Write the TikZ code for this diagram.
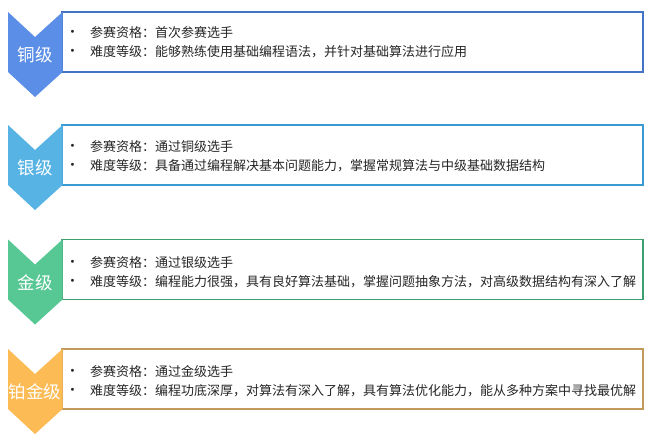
\documentclass[tikz,border=0pt]{standalone}
\usepackage{fontspec}
\setmainfont{Noto Sans CJK SC}
\newfontfamily\bulletfont{DejaVu Sans}
\definecolor{cA}{HTML}{5B8EE6}\definecolor{bA}{HTML}{4472C4}
\definecolor{cB}{HTML}{56B3E4}\definecolor{bB}{HTML}{3A9AD2}
\definecolor{cC}{HTML}{57C794}\definecolor{bC}{HTML}{3E9E6E}
\definecolor{cD}{HTML}{FDBB55}\definecolor{bD}{HTML}{C39A5A}
\definecolor{txt}{HTML}{262626}
\tikzset{
  infobox/.style={draw=#1, line width=1.2pt, fill=white},
  lvlabel/.style={text=white, font=\fontsize{17.5}{20}\selectfont, inner sep=0pt},
  itemtext/.style={text=txt, font=\fontsize{13}{19}\selectfont, anchor=west, inner sep=0pt, align=left},
  dot/.style={text=txt, font=\bulletfont\fontsize{10}{19}\selectfont, anchor=center, inner sep=0pt}
}
\newcommand{\levelrow}[8]{%
  % #1 top, #2 fill, #3 border, #4 label, #5 line1, #6 line2, #7 name, #8 text offset
  \draw[infobox=#3] (62pt,-#1pt) rectangle (643pt,-#1pt-60pt);
  \fill[#2] (8pt,-#1pt) -- (35pt,-#1pt-25pt) -- (62.5pt,-#1pt) -- (62.5pt,-#1pt-60pt)
     -- (35pt,-#1pt-85pt) -- (8pt,-#1pt-60pt) -- cycle;
  \node[lvlabel] (#7lab) at (35pt,-#1pt-43pt) {#4};
  \node[dot] (#7d1) at (72.5pt,-#1pt-#8pt) {•};
  \node[dot] (#7d2) at (72.5pt,-#1pt-#8pt-19pt) {•};
  \node[itemtext] (#7t1) at (90pt,-#1pt-#8pt) {#5};
  \node[itemtext] (#7t2) at (90pt,-#1pt-#8pt-19pt) {#6};
}
\begin{document}
\begin{tikzpicture}
\useasboundingbox (0,0) rectangle (652pt,-442pt);
\levelrow{12}{cA}{bA}{铜级}{参赛资格：首次参赛选手}{难度等级：能够熟练使用基础编程语法，并针对基础算法进行应用}{r1}{21}
\levelrow{125}{cB}{bB}{银级}{参赛资格：通过铜级选手}{难度等级：具备通过编程解决基本问题能力，掌握常规算法与中级基础数据结构}{r2}{22}
\levelrow{239.5}{cC}{bC}{金级}{参赛资格：通过银级选手}{难度等级：编程能力很强，具有良好算法基础，掌握问题抽象方法，对高级数据结构有深入了解}{r3}{23}
\levelrow{349}{cD}{bD}{铂金级}{参赛资格：通过金级选手}{难度等级：编程功底深厚，对算法有深入了解，具有算法优化能力，能从多种方案中寻找最优解}{r4}{23}
\end{tikzpicture}
\end{document}
